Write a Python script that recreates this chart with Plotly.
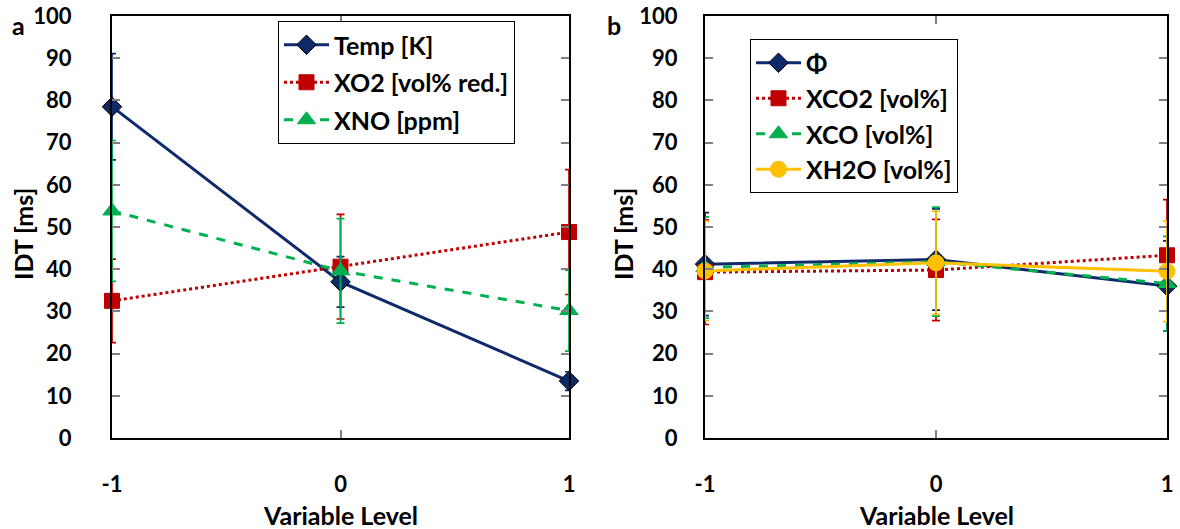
import plotly.graph_objects as go

levels = [-1, 0, 1]

# Panel a
temp = [78.5, 37.0, 13.5]
temp_err = [12.6, 6.0, 2.2]
xo2 = [32.5, 40.6, 48.8]
xo2_err = [9.9, 12.4, 14.8]
xno = [53.8, 39.6, 30.2]
xno_err = [16.7, 12.4, 9.6]

# Panel b
phi = [41.2, 42.3, 36.0]
phi_err = [12.2, 12.0, 10.7]
xco2 = [39.3, 39.8, 43.3]
xco2_err = [12.4, 12.0, 13.2]
xco = [40.4, 41.8, 36.6]
xco_err = [12.0, 12.9, 11.2]
xh2o = [39.6, 41.5, 39.5]
xh2o_err = [11.8, 12.2, 11.9]

yticks = list(range(0, 101, 10))

NAVY = "#0E2A6A"
RED = "#C00000"
GREEN = "#00B050"
YELLOW = "#FFC000"
FONT = "Lato"
FS = 22      # tick labels
FS_LEG = 25  # legend
FS_TTL = 25  # axis titles

W, H = 1180, 529


def PX(x):
    return x / W


def PY(y):
    return 1 - y / H


fig = go.Figure()


def add(x, y, err, name, color, dash, symbol, msize, xa, ya, legend, group, width=3):
    fig.add_trace(go.Scatter(
        x=x, y=y, name=name, mode="lines+markers",
        line=dict(color=color, width=width, dash=dash),
        marker=dict(symbol=symbol, size=msize, color=color,
                    line=dict(color="black" if symbol == "diamond" else color, width=1)),
        error_y=dict(type="data", array=err, visible=True, color=color, thickness=1.7, width=4),
        xaxis=xa, yaxis=ya, legend=legend, legendgroup=group, cliponaxis=False,
    ))


add(levels, temp, temp_err, "Temp [K]", NAVY, "solid", "diamond", 15, "x", "y", "legend", "a1")
add(levels, xo2, xo2_err, "XO2 [vol% red.]", RED, "dot", "square", 15, "x", "y", "legend", "a2")
add(levels, xno, xno_err, "XNO [ppm]", GREEN, "dash", "triangle-up", 16, "x", "y", "legend", "a3")

add(levels, phi, phi_err, "Φ", NAVY, "solid", "diamond", 15, "x2", "y2", "legend2", "b1")
add(levels, xco2, xco2_err, "XCO2 [vol%]", RED, "dot", "square", 15, "x2", "y2", "legend2", "b2")
add(levels, xco, xco_err, "XCO [vol%]", GREEN, "dash", "triangle-up", 16, "x2", "y2", "legend2", "b3")
add(levels, xh2o, xh2o_err, "XH2O [vol%]", YELLOW, "solid", "circle", 16, "x2", "y2", "legend2", "b4")

axis_common = dict(
    showline=True, linecolor="black", linewidth=2, mirror="ticks",
    ticks="inside", ticklen=8, tickcolor="#7F7F7F", tickwidth=1.5,
    showgrid=False, zeroline=False, automargin=False,
    tickfont=dict(family=FONT, size=FS, color="black", weight="bold"),
)

legend_font = dict(family=FONT, size=FS_LEG, color="black", weight="bold")

fig.update_layout(
    width=W, height=H,
    margin=dict(l=0, r=0, t=0, b=0, autoexpand=False),
    paper_bgcolor="white", plot_bgcolor="white",
    font=dict(family=FONT, size=FS, color="black", weight="bold"),
    xaxis=dict(domain=[PX(112), PX(569)], range=[-1, 1], tickvals=levels, ticktext=["-1", "0", "1"],
               ticklabelstandoff=26, anchor="y", **axis_common),
    yaxis=dict(domain=[PY(438), PY(16)], range=[0, 100], tickvals=yticks, ticklabelstandoff=34,
               anchor="x", **axis_common),
    xaxis2=dict(domain=[PX(705), PX(1167)], range=[-1, 1], tickvals=levels, ticktext=["-1", "0", "1"],
                ticklabelstandoff=26, anchor="y2", **axis_common),
    yaxis2=dict(domain=[PY(438), PY(16)], range=[0, 100], tickvals=yticks, ticklabelstandoff=21,
                anchor="x2", **axis_common),
    legend=dict(x=PX(278), y=PY(21), xanchor="left", yanchor="top",
                bordercolor="black", borderwidth=1, bgcolor="white", font=legend_font,
                traceorder="grouped", tracegroupgap=2, itemwidth=45),
    legend2=dict(x=PX(750), y=PY(39), xanchor="left", yanchor="top",
                 bordercolor="black", borderwidth=1, bgcolor="white", font=legend_font,
                 traceorder="grouped", tracegroupgap=0, itemwidth=45),
    showlegend=True,
)

annots = [
    dict(text="a", x=PX(18), y=PY(25)),
    dict(text="b", x=PX(614), y=PY(25)),
    dict(text="IDT [ms]", x=PX(23), y=PY(234), textangle=-90),
    dict(text="IDT [ms]", x=PX(623), y=PY(234), textangle=-90),
    dict(text="Variable Level", x=PX(340), y=PY(515)),
    dict(text="Variable Level", x=PX(936), y=PY(515)),
]
for a in annots:
    fig.add_annotation(xref="paper", yref="paper", showarrow=False,
                       xanchor="center", yanchor="middle",
                       font=dict(family=FONT, size=FS_TTL, color="black", weight="bold"), **a)

fig.write_html("out.html", config={"displayModeBar": False},
               post_script="document.body.style.margin='0';")
